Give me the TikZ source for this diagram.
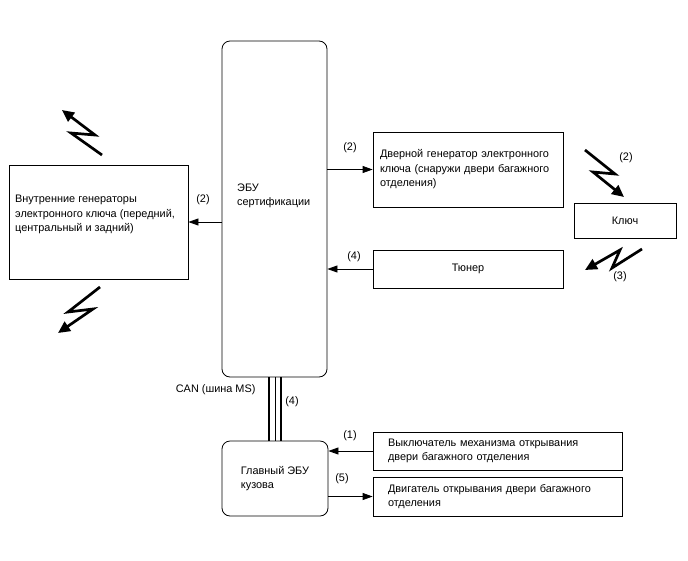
\documentclass[tikz,border=0pt]{standalone}
\usepackage{fontspec}
\setmainfont{Liberation Sans}
\usetikzlibrary{arrows.meta}

\begin{document}
\begin{tikzpicture}[x=1pt,y=-1pt,every node/.style={font=\fontsize{10.9}{14.5}\selectfont}]
\tikzset{
  box/.style={draw,line width=0.8pt,inner sep=0pt,align=left},
  ecubox/.style={box,rounded corners=8pt},
  conn/.style={-{Triangle[length=10pt,width=7pt]},line width=0.8pt},
  bolt/.style={-{Triangle[length=12pt,width=11pt]},line width=2.7pt},
  txt/.style={inner sep=0pt,align=left,anchor=west}
}
\useasboundingbox (0,0) rectangle (688,560);
% blocks
\node[ecubox,minimum width=105pt,minimum height=336pt] (cert) at (274.5,209){};
\node[txt] (certtext) at (237,196){ЭБУ\\сертификации};
\node[box,minimum width=179pt,minimum height=114pt] (inner) at (98.5,222){};
\node[txt] (innertext) at (15,214.5){Внутренние генераторы\\электронного ключа (передний,\\центральный и задний)};
\node[box,minimum width=190pt,minimum height=75pt,text width=176pt] (door) at (468,169.5){Дверной генератор электронного\\ключа (снаружи двери багажного\\отделения)};
\node[box,minimum width=102pt,minimum height=35pt,align=center] (key) at (625,220.5){Ключ};
\node[box,minimum width=190pt,minimum height=38pt,align=center] (tuner) at (468,269){Тюнер};
\node[ecubox,minimum width=106pt,minimum height=75pt] (body) at (275,478.5){Главный ЭБУ\\кузова};
\node[box,minimum width=249pt,minimum height=38pt,text width=219pt] (switch) at (497.5,451){Выключатель механизма открывания\\двери багажного отделения};
\node[box,minimum width=249pt,minimum height=39pt,text width=219pt] (motor) at (497.5,496.5){Двигатель открывания двери багажного\\отделения};
% connectors
\draw[conn] (cert.west |- inner.east) -- (inner.east);
\draw[conn] (cert.east |- door.west) -- (door.west);
\draw[conn] (tuner.west) -- (cert.east |- tuner.west);
\draw[conn] (switch.west) -- (body.east |- switch.west);
\draw[conn] (body.east |- motor.west) -- (motor.west);
% CAN bus
\draw[line width=2pt] ([xshift=-6pt]body.north |- cert.south) -- ([xshift=-6pt]body.north);
\draw[line width=1pt] (body.north |- cert.south) -- (body.north);
\draw[line width=2pt] ([xshift=6pt]body.north |- cert.south) -- ([xshift=6pt]body.north);
% labels
\node (l2a) at (203,200){(2)};
\node (l2b) at (350,148){(2)};
\node (l4a) at (354,257){(4)};
\node (l1) at (350,436){(1)};
\node (l5) at (342,479){(5)};
\node (l4b) at (292,402){(4)};
\node[anchor=east] (can) at (259,390){CAN (шина MS)};
\node (l2c) at (626,158){(2)};
\node (l3) at (620,277){(3)};
% radio links
\draw[bolt] (102,155) -- (71,133) -- (95,135) -- (62,110);
\draw[bolt] (100,287) -- (68,312) -- (93,309) -- (58,333);
\draw[bolt] (585,150) -- (615,174) -- (593,172) -- (624,197);
\draw[bolt] (642,249) -- (612,268) -- (620,250) -- (585,270);
\end{tikzpicture}
\end{document}
